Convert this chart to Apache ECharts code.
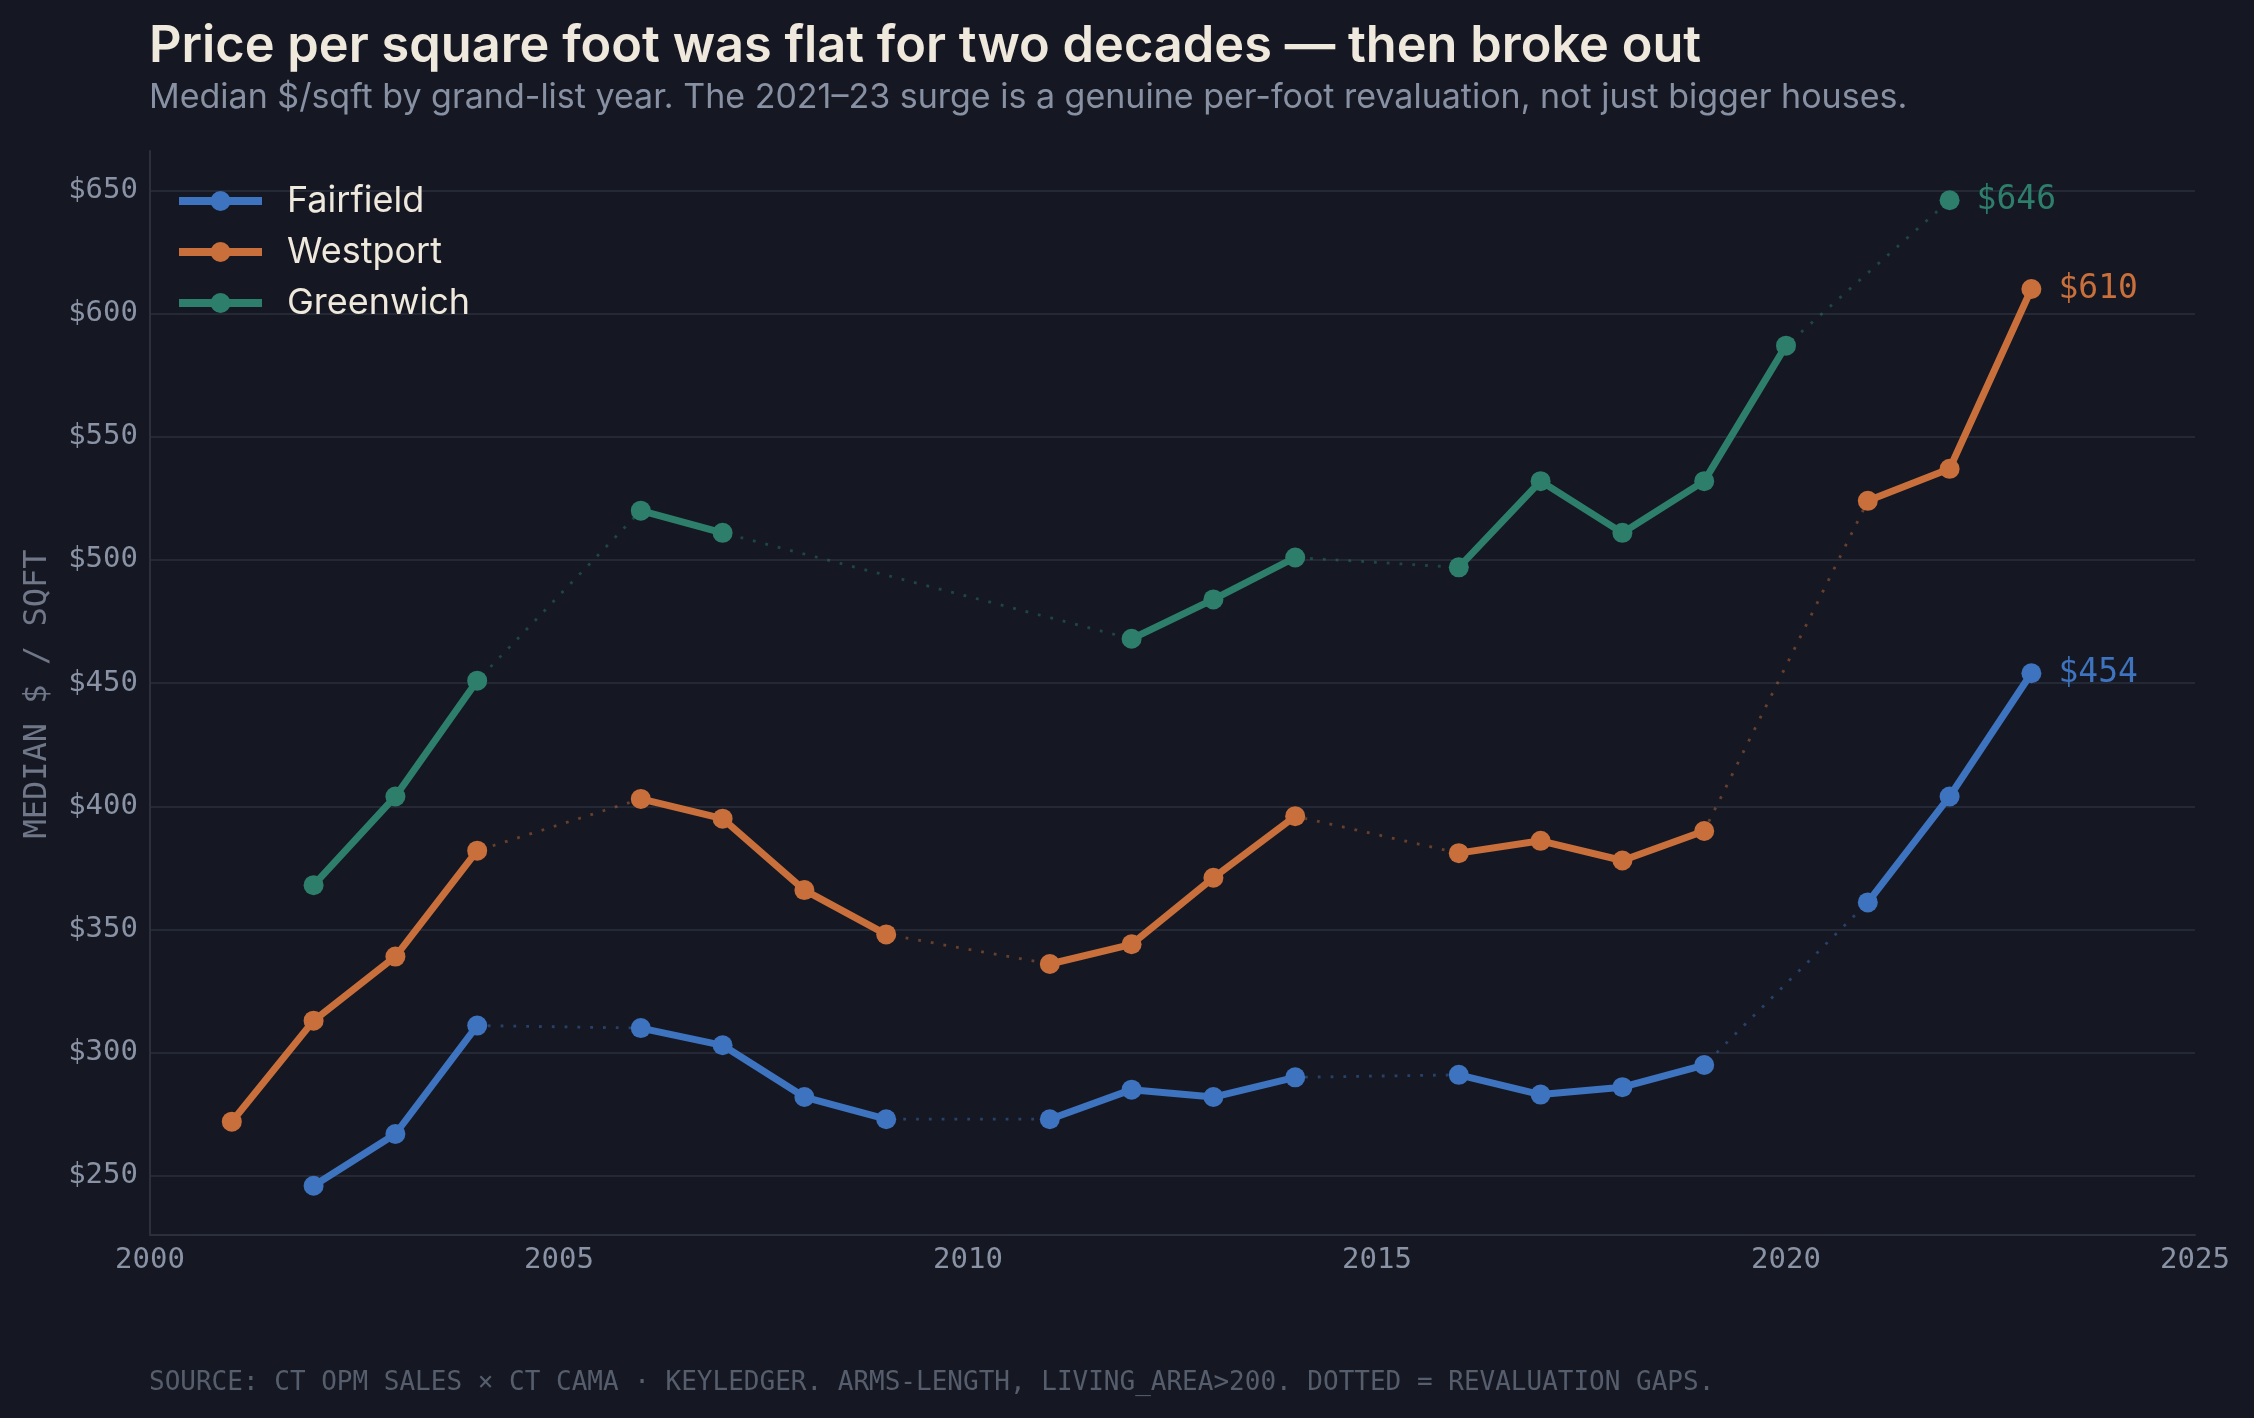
<!DOCTYPE html>
<html>
<head>
<meta charset="utf-8">
<title>Price per square foot</title>
<script src="https://cdn.jsdelivr.net/npm/echarts@6/dist/echarts.min.js"></script>
<style>
  html, body { margin: 0; padding: 0; background: #151822; }
  #chart { width: 2254px; height: 1418px; }
</style>
</head>
<body>
<div id="chart"></div>
<script>
// grand-list years
const years = [2001, 2002, 2003, 2004, 2005, 2006, 2007, 2008, 2009, 2010, 2011, 2012,
  2013, 2014, 2015, 2016, 2017, 2018, 2019, 2020, 2021, 2022, 2023]

// median $/sqft, null = revaluation gap
const fairfield = [null, 246, 267, 311, null, 310, 303, 282, 273, null, 273, 285,
  282, 290, null, 291, 283, 286, 295, null, 361, 404, 454]
const westport = [272, 313, 339, 382, null, 403, 395, 366, 348, null, 336, 344,
  371, 396, null, 381, 386, 378, 390, null, 524, 537, 610]
const greenwich = [null, 368, 404, 451, null, 520, 511, null, null, null, null, 468,
  484, 501, null, 497, 532, 511, 532, 587, null, 646, null]

const towns = ['Fairfield', 'Westport', 'Greenwich']
const colors = ['#3d73bf', '#c96f3b', '#2d7f6c']
const xTicks = [2000, 2025, 5]
const yTicks = [250, 300, 350, 400, 450, 500, 550, 600, 650]
const yRange = [226, 666]

const mono = '"DejaVu Sans Mono", monospace'
const sans = 'Inter, "Noto Sans", sans-serif'

const chart = echarts.init(document.getElementById('chart'))

function buildData(values, color) {
  // last non-null point gets the value label
  let last = -1
  values.forEach((v, i) => { if (v !== null) last = i })
  return values.map((v, i) => {
    const item = { value: [years[i], v === null ? '-' : v] }
    if (i === last) {
      item.label = {
        show: true,
        position: 'right',
        distance: 17,
        formatter: '$' + v,
        color: color,
        fontFamily: mono,
        fontSize: 33,
      }
    }
    return item
  })
}

const series = []
const allValues = [fairfield, westport, greenwich]

// dotted connectors across gaps (drawn underneath)
allValues.forEach((values, k) => {
  series.push({
    name: towns[k] + ' gap',
    type: 'line',
    data: values.map((v, i) => [years[i], v === null ? '-' : v]),
    connectNulls: true,
    showSymbol: false,
    symbol: 'none',
    z: 1,
    silent: true,
    lineStyle: {
      color: colors[k],
      width: 2.8,
      opacity: 0.45,
      type: [2.8, 10],
      cap: 'butt',
    },
  })
})

// solid segments
allValues.forEach((values, k) => {
  series.push({
    name: towns[k],
    type: 'line',
    data: buildData(values, colors[k]),
    connectNulls: false,
    symbol: 'circle',
    symbolSize: 20,
    z: 3,
    itemStyle: { color: colors[k] },
    lineStyle: { color: colors[k], width: 7 },
  })
})

const option = {
  backgroundColor: '#151822',
  animation: false,
  title: [
    {
      text: 'Price per square foot was flat for two decades — then broke out',
      left: 144,
      top: 16,
      textStyle: { color: '#efe8dc', fontFamily: sans, fontSize: 50.5, fontWeight: 600 },
    },
    {
      text: 'Median $/sqft by grand-list year. The 2021–23 surge is a genuine per-foot revaluation, not just bigger houses.',
      left: 144,
      top: 76,
      textStyle: { color: '#8891a3', fontFamily: sans, fontSize: 34, fontWeight: 400 },
    },
    {
      text: 'SOURCE: CT OPM SALES × CT CAMA · KEYLEDGER. ARMS-LENGTH, LIVING_AREA>200. DOTTED = REVALUATION GAPS.',
      left: 144,
      top: 1365,
      textStyle: { color: '#565e6e', fontFamily: mono, fontSize: 26, fontWeight: 400 },
    },
  ],
  graphic: [
    {
      type: 'text',
      x: 38,
      y: 694,
      rotation: Math.PI / 2,
      style: {
        text: 'MEDIAN $ / SQFT',
        fill: '#6f7789',
        font: '32px ' + mono,
        align: 'center',
        verticalAlign: 'middle',
      },
    },
  ],
  legend: {
    data: towns,
    orient: 'vertical',
    left: 170,
    top: 178,
    itemWidth: 83,
    itemHeight: 25,
    itemGap: 15,
    lineStyle: { width: 8 },
    textStyle: { color: '#efe8dc', fontFamily: sans, fontSize: 36, padding: [0, 0, 0, 20] },
  },
  grid: {
    left: 150,
    right: 59,
    top: 151,
    bottom: 183,
    containLabel: false,
  },
  xAxis: {
    type: 'value',
    min: xTicks[0],
    max: xTicks[1],
    interval: xTicks[2],
    axisLine: { show: true, lineStyle: { color: '#2c303c', width: 2 } },
    axisTick: { show: false },
    splitLine: { show: false },
    axisLabel: {
      margin: 11,
      color: '#8a93a5',
      fontFamily: mono,
      fontSize: 29,
      formatter: (v) => String(v),
    },
  },
  yAxis: {
    type: 'value',
    min: yRange[0],
    max: yRange[1],
    axisLine: { show: true, lineStyle: { color: '#2c303c', width: 2 } },
    axisTick: { show: false, customValues: yTicks },
    splitLine: { show: true, lineStyle: { color: '#252935', width: 2 } },
    axisLabel: {
      margin: 12,
      color: '#8a93a5',
      fontFamily: mono,
      fontSize: 29,
      customValues: yTicks,
      formatter: (v) => '$' + v,
    },
  },
  series: series,
}

chart.setOption(option)
</script>
</body>
</html>
